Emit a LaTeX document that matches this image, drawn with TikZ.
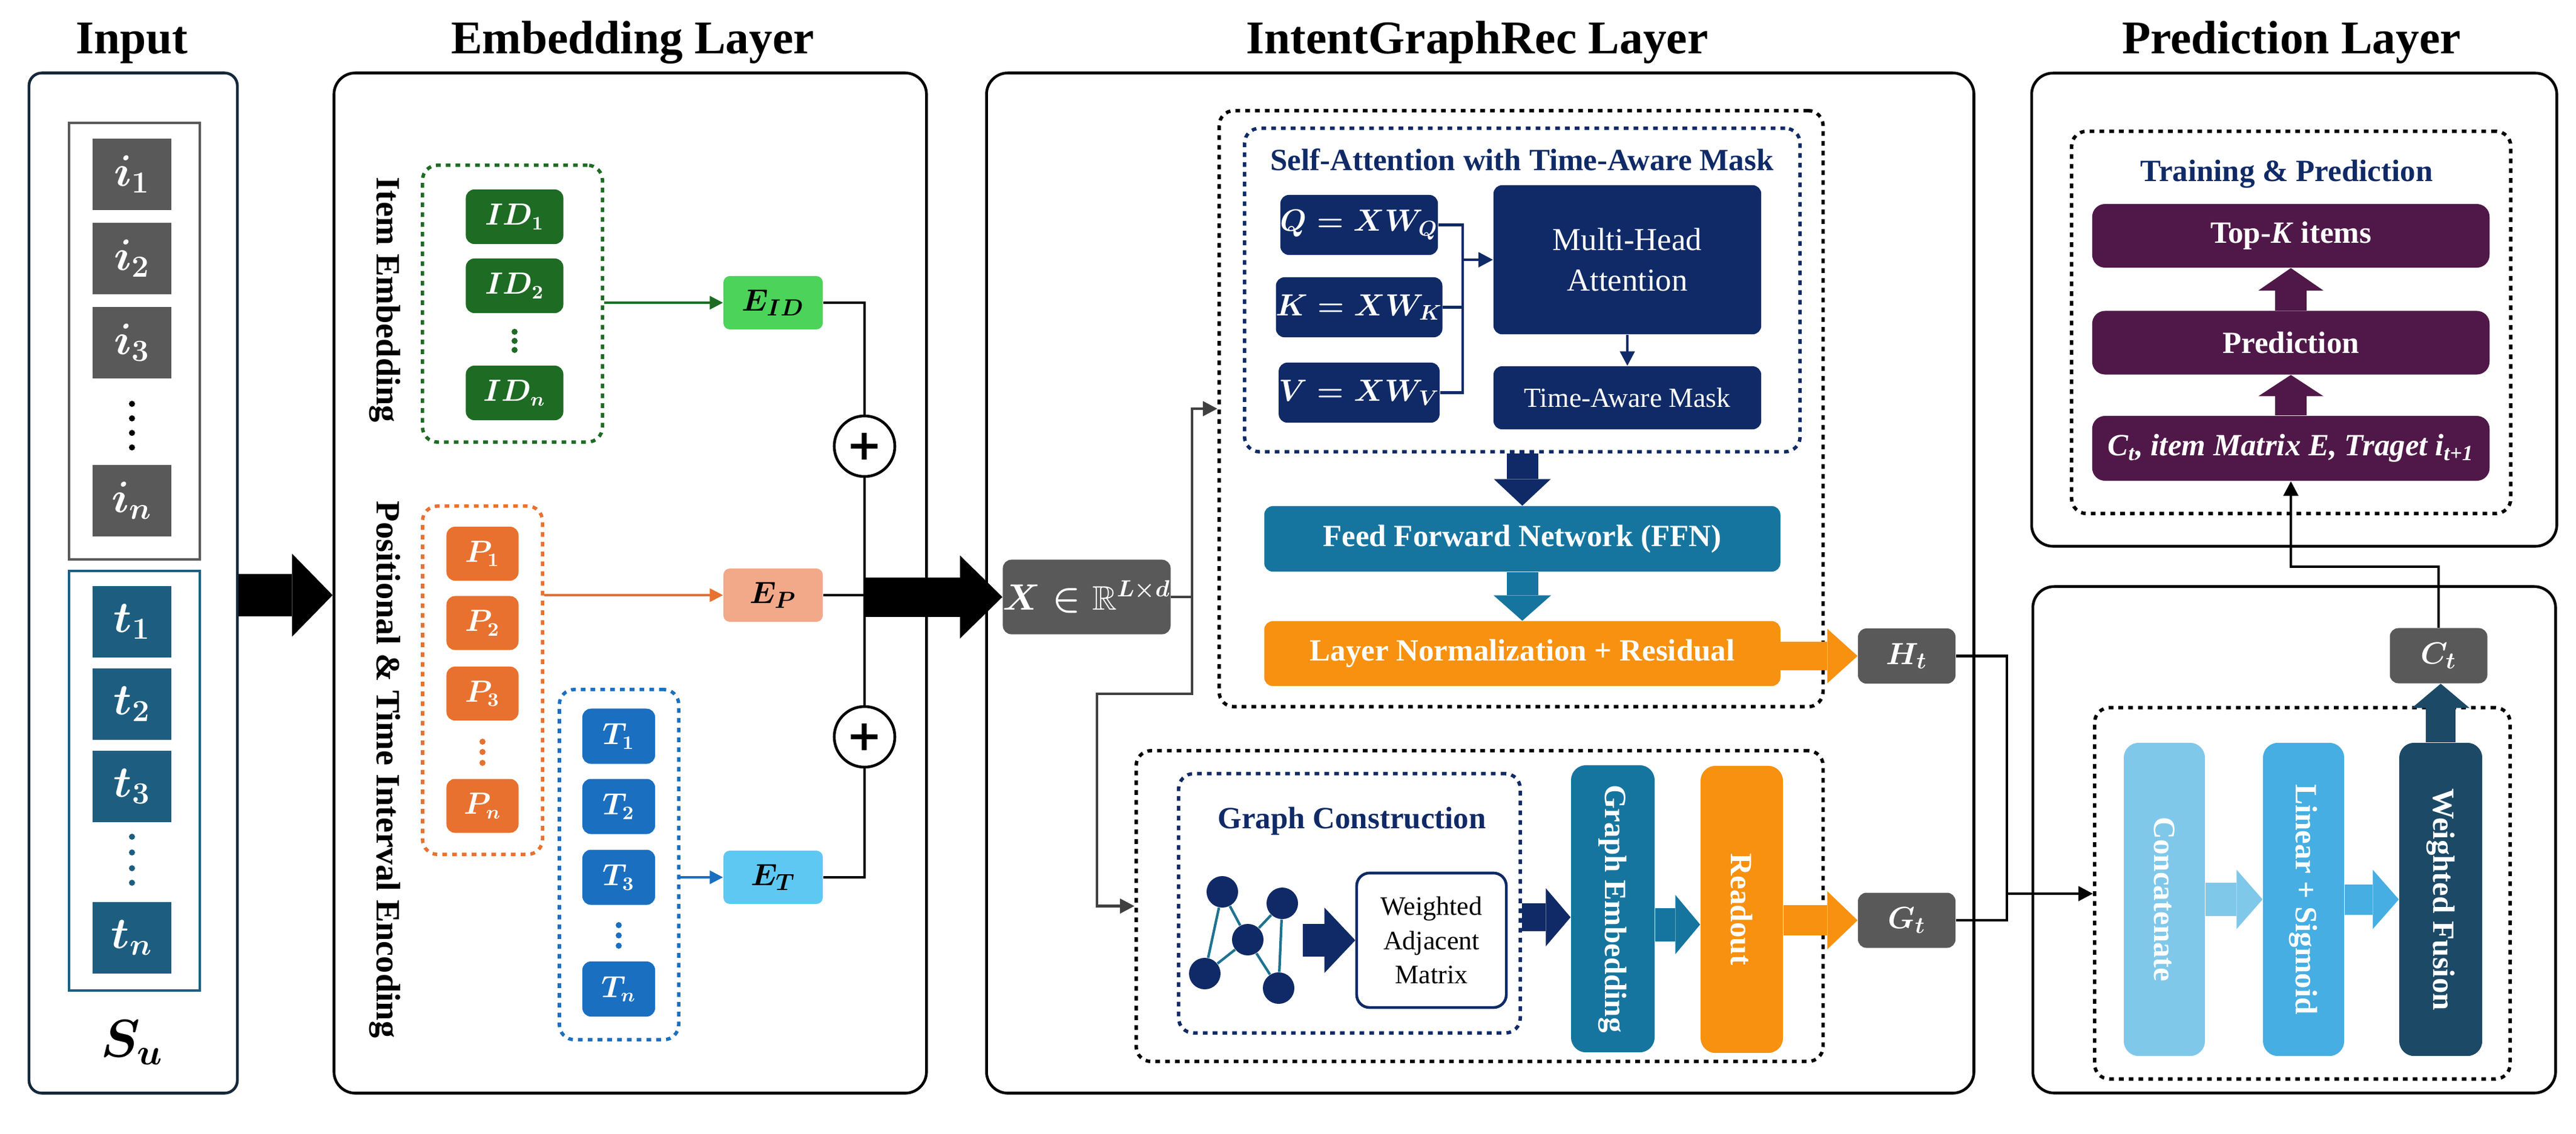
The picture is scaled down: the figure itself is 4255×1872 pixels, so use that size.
\documentclass[tikz,border=0pt]{standalone}
\usepackage{amsmath}
\usepackage{amssymb}
\usepackage{fontspec}
\setmainfont{Liberation Serif}
\newfontfamily\plusfont{DejaVu Sans}
\usetikzlibrary{arrows.meta,positioning}

\definecolor{cgray}{HTML}{595959}
\definecolor{ctime}{HTML}{1D5E80}
\definecolor{cgreen}{HTML}{1E6B24}
\definecolor{cgreenl}{HTML}{4CD35A}
\definecolor{corange}{HTML}{E8712F}
\definecolor{cpeach}{HTML}{F2A98A}
\definecolor{cblue}{HTML}{1A6FC0}
\definecolor{cbluel}{HTML}{5FC8F2}
\definecolor{cnavy}{HTML}{0F2A66}
\definecolor{cteal}{HTML}{16759F}
\definecolor{cgold}{HTML}{F7910F}
\definecolor{ccat}{HTML}{80C8EA}
\definecolor{clin}{HTML}{46AEE2}
\definecolor{cfus}{HTML}{1B4966}
\definecolor{cpurple}{HTML}{4F1848}
\definecolor{cedge}{HTML}{1F7390}
\definecolor{cframe}{HTML}{14283A}

\begin{document}
\begin{tikzpicture}[x=0.01cm,y=-0.01cm,
  panel/.style={draw=black,line width=1.3pt,rounded corners=10pt,inner sep=0pt},
  dotbox/.style={line width=1.6pt,dash pattern=on 2.2pt off 2.4pt,rounded corners=7pt,inner sep=0pt},
  blk/.style={rounded corners=4pt,text=white,inner sep=0pt},
  sq/.style={text=white,minimum width=12.9mm,minimum height=11.8mm,inner sep=0pt,font=\fontsize{21}{22}\selectfont\boldmath},
  lbl/.style={font=\fontsize{14.5}{17}\selectfont\bfseries},
  ttl/.style={font=\fontsize{22}{24}\selectfont\bfseries,anchor=base},
  side/.style={font=\fontsize{16}{18}\selectfont\bfseries,rotate=-90},
  idb/.style={blk,minimum width=16.1mm,minimum height=9mm,font=\fontsize{13.5}{15}\selectfont\boldmath},
  pb/.style={blk,minimum width=11.9mm,minimum height=8.9mm,font=\fontsize{13.5}{15}\selectfont\boldmath},
  tb/.style={blk,fill=cblue,minimum width=12mm,minimum height=9.1mm,font=\fontsize{13.5}{15}\selectfont\boldmath},
  ebox/.style={blk,rounded corners=3pt,text=black,minimum width=16.4mm,minimum height=8.8mm,font=\fontsize{15}{17}\selectfont\boldmath},
  qkv/.style={blk,fill=cnavy,minimum width=24.8mm,minimum height=9.9mm,font=\fontsize{14.5}{17}\selectfont\boldmath},
  gbox/.style={blk,fill=cgray,minimum width=16.1mm,minimum height=9.1mm,font=\fontsize{15}{17}\selectfont\boldmath},
  vbox/.style={blk,rounded corners=7pt,lbl,minimum width=13.6mm,minimum height=47.4mm},
  fbox/.style={blk,rounded corners=7pt,lbl,minimum width=13.4mm,minimum height=51.7mm},
  pbox/.style={blk,fill=cpurple,rounded corners=6pt,minimum width=65.6mm,minimum height=10.5mm},
  gnode/.style={circle,fill=cnavy,minimum size=5.2mm,inner sep=0pt},
  plus/.style={circle,draw,line width=1.3pt,minimum size=10mm,inner sep=0pt,font=\fontsize{20}{20}\selectfont\plusfont\bfseries},
  conn/.style={line width=0.9pt,-{Triangle[length=2.2mm,width=2.2mm]}},
  sumline/.style={line width=1.3pt},
  nline/.style={line width=1.3pt,cnavy},
  gline/.style={line width=1.2pt,black!75},
  mline/.style={line width=1.2pt,black},
  tip/.style={-{Triangle[length=2.4mm,width=2.4mm]}},
  barrow/.style n args={3}{line width=#1,-{Triangle[length=#2,width=#3,line width=0pt]}},
]
\useasboundingbox (0,0) rectangle (4255,1872);

% titles
\node[ttl] (tIn) at (218,88) {Input};
\node[ttl] (tEmb) at (1045,88) {Embedding Layer};
\node[ttl] (tIGR) at (2440,88) {IntentGraphRec Layer};
\node[ttl] (tPred) at (3785,88) {Prediction Layer};

% panels
\node[panel,draw=cframe,rounded corners=6pt,minimum width=34.4mm,minimum height=168.4mm] (pIn) at (220,963) {};
\node[panel,minimum width=97.8mm,minimum height=168.4mm] (pEmb) at (1041,963) {};
\node[panel,minimum width=163mm,minimum height=168.4mm] (pIGR) at (2445,963) {};
\node[panel,minimum width=86.7mm,minimum height=78.1mm] (pPred) at (3789.5,511.5) {};
\node[panel,minimum width=86.3mm,minimum height=83.6mm] (pFus) at (3789.5,1387) {};

% input
\node[draw=cgray,line width=1.2pt,minimum width=21.6mm,minimum height=72.1mm] (gI) at (222,563.5) {};
\node[draw=ctime,line width=1.2pt,minimum width=21.6mm,minimum height=69.3mm] (gTi) at (222,1289.5) {};
\node[sq,fill=cgray] (i1) at (218,288) {$i_1$};
\node[sq,fill=cgray] (i2) at (218,427) {$i_2$};
\node[sq,fill=cgray] (i3) at (218,566) {$i_3$};
\node[sq,fill=cgray] (in) at (218,827) {$i_n$};
\foreach \y in {667,691,715,739} \fill (218,\y) circle (0.5mm);
\node[sq,fill=ctime] (t1) at (218,1027) {$t_1$};
\node[sq,fill=ctime] (t2) at (218,1163) {$t_2$};
\node[sq,fill=ctime] (t3) at (218,1299) {$t_3$};
\node[sq,fill=ctime] (tn) at (218,1549) {$t_n$};
\foreach \y in {1382,1408,1434,1458} \fill[ctime] (218,\y) circle (0.5mm);
\node[font=\fontsize{24}{26}\selectfont\boldmath] (Su) at (218,1722) {$S_u$};

% embedding
\node[side] (lItem) at (636,495) {Item Embedding};
\node[side] (lPos) at (636,1271) {Positional \& Time Interval Encoding};
\node[dotbox,draw=cgreen,minimum width=29.7mm,minimum height=45.7mm] (gID) at (846.5,501.5) {};
\node[idb,fill=cgreen] (ID1) at (850,358) {$ID_1$};
\node[idb,fill=cgreen] (ID2) at (850,472) {$ID_2$};
\node[idb,fill=cgreen] (IDn) at (850,649) {$ID_n$};
\foreach \y in {548,563,578} \fill[cgreen] (850,\y) circle (0.5mm);
\node[dotbox,draw=corange,minimum width=19.8mm,minimum height=57.5mm] (gP) at (797,1123.5) {};
\node[pb,fill=corange] (P1) at (797,914.5) {$P_1$};
\node[pb,fill=corange] (P2) at (797,1029) {$P_2$};
\node[pb,fill=corange] (P3) at (797,1145.5) {$P_3$};
\node[pb,fill=corange] (Pn) at (797,1331) {$P_n$};
\foreach \y in {1225,1242,1260} \fill[corange] (797,\y) circle (0.5mm);
\node[dotbox,draw=cblue,minimum width=19.7mm,minimum height=57.8mm] (gT) at (1022.5,1428) {};
\node[tb] (T1) at (1022,1216) {$T_1$};
\node[tb] (T2) at (1022,1332) {$T_2$};
\node[tb] (T3) at (1022,1449) {$T_3$};
\node[tb] (Tn) at (1022,1633.5) {$T_n$};
\foreach \y in {1528,1545,1562} \fill[cblue] (1022,\y) circle (0.5mm);
\node[ebox,fill=cgreenl] (EID) at (1277,500) {$E_{ID}$};
\node[ebox,fill=cpeach] (EP) at (1277,983) {$E_P$};
\node[ebox,fill=cbluel] (ET) at (1277,1449) {$E_T$};
\node[plus] (plus1) at (1428,737) {+};
\node[plus] (plus2) at (1428,1217) {+};
\draw[conn,cgreen] (gID.east |- EID) -- (EID.west);
\draw[conn,corange] (gP.east |- EP) -- (EP.west);
\draw[conn,cblue] (gT.east |- ET) -- (ET.west);
\draw[sumline] (EID.east) -| (plus1.north);
\draw[sumline] (plus1.south) -- (plus2.north);
\draw[sumline] (ET.east) -| (plus2.south);
\draw[sumline] (EP.east) -- (EP.east -| plus1);
\draw[barrow={7mm}{6.7mm}{13.7mm}] (pIn.east |- EP) -- (pEmb.west |- EP);

% intentgraphrec
\node[blk,fill=cgray,minimum width=25.2mm,minimum height=12.3mm,font=\fontsize{16}{18}\selectfont\boldmath] (X) at (1795,986) {$X\in\mathbb{R}^{L\times d}$};
\draw[barrow={6.5mm}{7mm}{13.7mm}] (plus1 |- X) -- (X.west);
\node[dotbox,draw=black,minimum width=99.7mm,minimum height=98.4mm] (gAtt) at (2512.5,675) {};
\node[dotbox,draw=cnavy,minimum width=91.7mm,minimum height=53.4mm] (gSA) at (2514.5,479) {};
\node[lbl,text=cnavy] (tSA) at (2514,264) {Self-Attention with Time-Aware Mask};
\node[qkv] (Q) at (2245,371.5) {$Q=XW_Q$};
\node[qkv] (K) at (2245,507.5) {$K=XW_K$};
\node[qkv] (V) at (2245,648.5) {$V=XW_V$};
\node[blk,fill=cnavy,minimum width=44.2mm,minimum height=24.6mm,align=center,font=\fontsize{15}{19}\selectfont] (MHA) at (2688,429) {Multi-Head\\Attention};
\node[blk,fill=cnavy,minimum width=44.2mm,minimum height=10.4mm,font=\fontsize{13}{15}\selectfont] (TAM) at (2688,657) {Time-Aware Mask};
\coordinate[left=5mm of MHA.west] (qkvJ);
\draw[nline] (Q.east) -| (qkvJ);
\draw[nline] (V.east) -| (qkvJ);
\draw[nline] (K.east) -- (K.east -| qkvJ);
\draw[nline,tip] (qkvJ) -- (MHA.west);
\draw[nline,tip] (MHA.south) -- (TAM.north);
\node[blk,fill=cteal,lbl,minimum width=85.2mm,minimum height=10.8mm] (FFN) at (2514.5,890) {Feed Forward Network (FFN)};
\node[blk,fill=cgold,lbl,minimum width=85.2mm,minimum height=10.7mm] (LN) at (2514.5,1079.5) {Layer Normalization + Residual};
\draw[barrow={5.2mm}{4.4mm}{9.4mm},cnavy] (gSA.south) -- (FFN.north);
\draw[barrow={5.2mm}{4.2mm}{9.5mm},cteal] (FFN.south) -- (LN.north);
\node[gbox] (Ht) at (3149.5,1083.5) {$H_t$};
\node[gbox] (Gt) at (3149.5,1520) {$G_t$};
\draw[barrow={4.7mm}{5mm}{9mm},cgold] (LN.east |- Ht) -- (Ht.west);

% graph branch
\node[dotbox,draw=black,minimum width=113.4mm,minimum height=51.3mm] (gGraph) at (2444,1496.5) {};
\node[dotbox,draw=cnavy,minimum width=56.4mm,minimum height=42.8mm] (gGC) at (2229,1492) {};
\node[lbl,text=cnavy] (tGC) at (2233,1356) {Graph Construction};
\node[gnode] (n1) at (2019,1473) {};
\node[gnode] (n2) at (2118,1492) {};
\node[gnode] (n3) at (2061,1552) {};
\node[gnode] (n4) at (1990,1608) {};
\node[gnode] (n5) at (2112,1632) {};
\draw[cedge,line width=1.2pt] (n1) -- (n4) (n1) -- (n3) (n2) -- (n3) (n3) -- (n4) (n2) -- (n5) (n3) -- (n5);
\node[draw=cnavy,fill=white,line width=1.3pt,rounded corners=6pt,minimum width=24.7mm,minimum height=22.2mm,align=center,font=\fontsize{12.5}{16}\selectfont] (WAM) at (2364.5,1553) {Weighted\\Adjacent\\Matrix};
\draw[barrow={5.4mm}{5.1mm}{10.8mm},cnavy] ([xshift=-8.7mm]WAM.west) -- (WAM.west);
\node[vbox,fill=cteal,minimum width=13.8mm] (GE) at (2664,1501) {\rotatebox{-90}{Graph Embedding}};
\node[vbox,fill=cgold] (RO) at (2877,1502) {\rotatebox{-90}{Readout}};
\coordinate (yGE) at (0,1515);
\coordinate (yRO) at (0,1527);
\draw[barrow={4.6mm}{4.1mm}{9.6mm},cnavy] (gGC.east |- yGE) -- (GE.west |- yGE);
\draw[barrow={5.5mm}{4.1mm}{9.8mm},cteal] (GE.east |- yRO) -- (RO.west |- yRO);
\draw[barrow={5mm}{5mm}{9.6mm},cgold] (RO.east |- Gt) -- (Gt.west);

% X feeds both branches
\coordinate (xs) at (1969,986);
\coordinate (xd) at (1812,1146);
\draw[gline] (X.east) -- (xs);
\draw[gline,tip] (xs) |- (gAtt.west);
\draw[gline,tip] (xs) |- (xd) |- (gGraph.west);

% fusion
\node[dotbox,draw=black,minimum width=68.6mm,minimum height=61.3mm] (gFus) at (3803,1475.5) {};
\node[fbox,fill=ccat] (Cat) at (3575,1485.5) {\rotatebox{-90}{Concatenate}};
\node[fbox,fill=clin] (Lin) at (3805,1485.5) {\rotatebox{-90}{Linear + Sigmoid}};
\node[fbox,fill=cfus,minimum width=13.7mm] (WF) at (4031.5,1485.5) {\rotatebox{-90}{Weighted Fusion}};
\draw[barrow={5.5mm}{4.3mm}{9.8mm},ccat] (Cat.east) -- (Lin.west);
\draw[barrow={5mm}{4.3mm}{9.8mm},clin] (Lin.east) -- (WF.west);
\node[gbox] (Ct) at (4028,1083) {$C_t$};
\draw[barrow={4.9mm}{4mm}{9.5mm},cfus] (WF.north) -- (WF.north |- Ct.south);
\coordinate (mrg) at (3315,1476);
\draw[mline] (Ht.east) -| (mrg) |- (Gt.east);
\draw[mline,tip] (mrg) -- (gFus.west |- mrg);

% prediction
\node[dotbox,draw=black,minimum width=72.5mm,minimum height=63.1mm] (gTP) at (3784.5,532.5) {};
\node[lbl,text=cnavy] (tTP) at (3777,287) {Training \& Prediction};
\node[pbox,lbl] (TopK) at (3784,389.5) {Top-\textit{K} items};
\node[pbox,lbl] (Pred) at (3784,566) {Prediction};
\node[pbox,lbl,minimum height=10.7mm] (CtIn) at (3784,740.5) {\itshape C\textsubscript{t}, item Matrix E, Traget i\textsubscript{t+1}};
\draw[barrow={5.2mm}{3.7mm}{10.7mm},cpurple] (Pred.north) -- (TopK.south);
\draw[barrow={5.2mm}{3.5mm}{10.7mm},cpurple] (CtIn.north) -- (Pred.south);
\draw[mline,tip] (Ct.north) -- ++(0,-101) -| (CtIn.south);
\end{tikzpicture}
\end{document}
